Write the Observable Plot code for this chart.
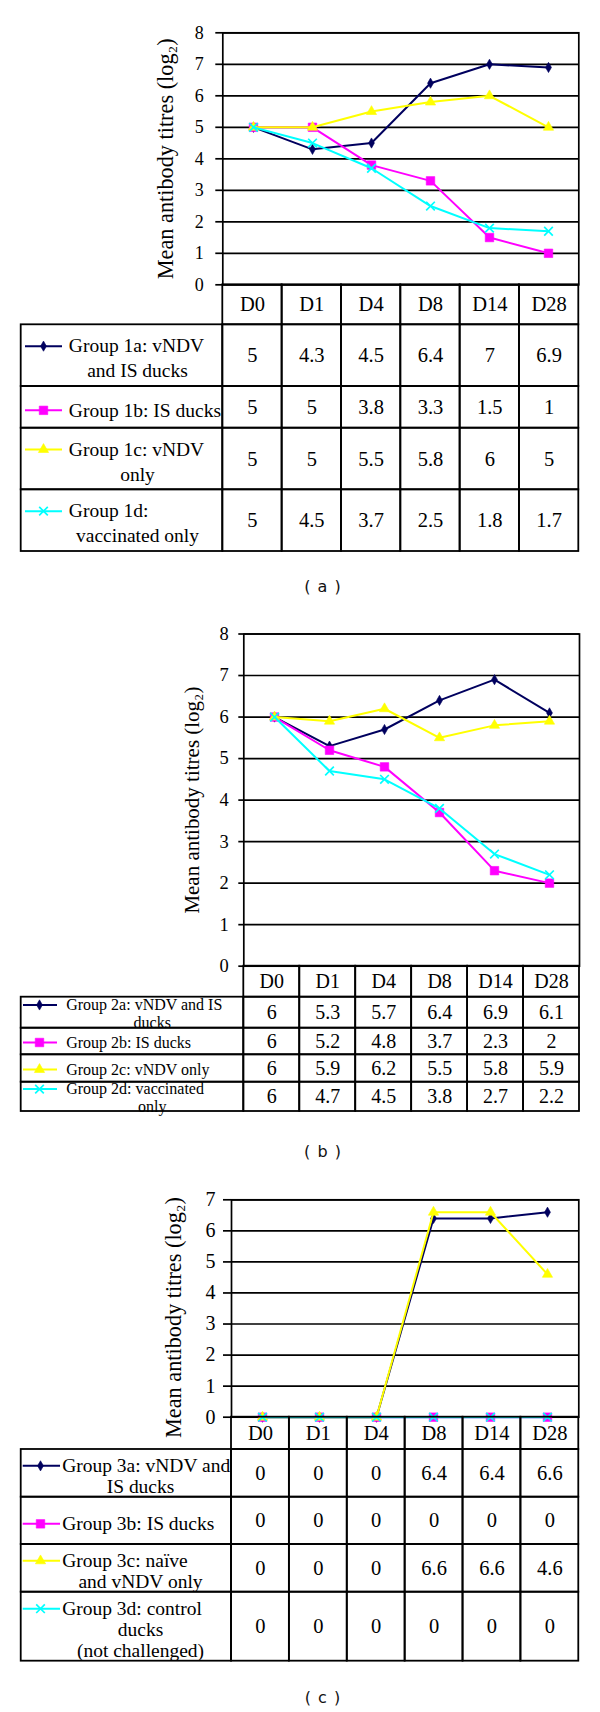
<!DOCTYPE html>
<html><head><meta charset="utf-8">
<script src="https://cdn.jsdelivr.net/npm/d3@7"></script>
<script src="https://cdn.jsdelivr.net/npm/@observablehq/plot@0.6"></script>
<style>
body{margin:0;background:#fff;}
#root{position:relative;width:600px;height:1712px;overflow:hidden;background:#fff;}
.box{position:absolute;left:0;width:600px;}
.box svg{display:block;}
.cap{position:absolute;font-family:"DejaVu Sans",sans-serif;font-size:16px;letter-spacing:1px;color:#111;transform:translate(-50%,-50%);white-space:pre;}
</style></head><body><div id="root"></div>
<script>
// ---------- data ----------
const days = ["D0", "D1", "D4", "D8", "D14", "D28"];
const yTitle = "Mean antibody titres (log₂)";

const labelsA = [["Group 1a: vNDV", "and IS ducks"], ["Group 1b: IS ducks"], ["Group 1c: vNDV", "only"], ["Group 1d:", "vaccinated only"]];
const valuesA = [[5, 4.3, 4.5, 6.4, 7, 6.9], [5, 5, 3.8, 3.3, 1.5, 1], [5, 5, 5.5, 5.8, 6, 5], [5, 4.5, 3.7, 2.5, 1.8, 1.7]];
const yTicksA = [0, 1, 2, 3, 4, 5, 6, 7, 8];

const labelsB = [["Group 2a: vNDV and IS", "ducks"], ["Group 2b: IS ducks"], ["Group 2c: vNDV only"], ["Group 2d: vaccinated", "only"]];
const valuesB = [[6, 5.3, 5.7, 6.4, 6.9, 6.1], [6, 5.2, 4.8, 3.7, 2.3, 2], [6, 5.9, 6.2, 5.5, 5.8, 5.9], [6, 4.7, 4.5, 3.8, 2.7, 2.2]];
const yTicksB = [0, 1, 2, 3, 4, 5, 6, 7, 8];

const labelsC = [["Group 3a: vNDV and", "IS ducks"], ["Group 3b: IS ducks"], ["Group 3c: naïve", "and vNDV only"], ["Group 3d: control", "ducks", "(not challenged)"]];
const valuesC = [[0, 0, 0, 6.4, 6.4, 6.6], [0, 0, 0, 0, 0, 0], [0, 0, 0, 6.6, 6.6, 4.6], [0, 0, 0, 0, 0, 0]];
const yTicksC = [0, 1, 2, 3, 4, 5, 6, 7];

const captions = ["( a )", "( b )", "( c )"];

// ---------- styles ----------
const serif = '"Liberation Serif","Times New Roman",serif';
const seriesColors = ["#00005e", "#ff00ff", "#ffff00", "#00ffff"];
const seriesSymbols = ["diamond", "square", "triangle", "times"];
const symbolR = [3.1, 4.8, 3.8, 4];

// ---------- layout ----------
const layoutA = {yTopPx: 32.3, yZeroPx: 284.3, left: 222.3, right: 578.3, tableLeft: 20.7,
  rowH: [40, 61.7, 41.7, 61.6, 61.7], lineH: 25, blockDy: 3, valueDy: 0, labelFont: 19.5, valueFont: 20.5,
  tickFont: 18, titleFont: 22.3, titleX: 165, titleDy: 0, tickSize: 7, tickPadding: 12,
  swatch: [25, 62, 43], textX: 68.3, contX: 137, caption: 585.7};
const layoutB = {yTopPx: 633.5, yZeroPx: 965.7, left: 243.3, right: 579, tableLeft: 20.7,
  rowH: [31, 31, 26.6, 27.4, 29.3], lineH: 17.5, blockDy: 1, valueDy: 0, labelFont: 16, valueFont: 20,
  tickFont: 18.5, titleFont: 21, titleX: 191.7, titleDy: 0, tickSize: 5, tickPadding: 10,
  swatch: [23, 57, 39], textX: 65.7, contX: 151.7, caption: 1151};
const layoutC = {yTopPx: 1199.3, yZeroPx: 1416.7, left: 231, right: 578.3, tableLeft: 20.7,
  rowH: [32.3, 47.7, 47.3, 47.7, 69], lineH: 21, blockDy: 3, valueDy: 0, labelFont: 19.5, valueFont: 20.5,
  tickFont: 20, titleFont: 22.3, titleX: 173.3, titleDy: 9, tickSize: 8, tickPadding: 8,
  swatch: [22.7, 60, 40], textX: 61.7, contX: 140, caption: 1697};

function dotOpts(gi, base) {
  const c = seriesColors[gi];
  const o = {...base, symbol: seriesSymbols[gi], r: symbolR[gi]};
  if (seriesSymbols[gi] === "times") return {...o, stroke: c, strokeWidth: 1.7, fill: "none"};
  return {...o, fill: c, stroke: c, strokeWidth: 0.6};
}

function place(el, top) {
  const d = document.createElement("div");
  d.className = "box";
  d.style.top = top + "px";
  d.appendChild(el);
  document.getElementById("root").appendChild(d);
}

function drawPanel(L, labels, values, yTicks, caption) {
  // ---- chart ----
  const chartTop = Math.floor(L.yTopPx - 34);
  const pad = 6;
  const chartHeight = L.yZeroPx - chartTop + pad;
  const series = values.map((vals, gi) => vals.map((v, di) => ({g: gi, day: days[di], v})));
  const marks = [
    Plot.ruleY(yTicks, {stroke: "#000", strokeWidth: 1.7}),
    Plot.axisY({ticks: yTicks, tickSize: L.tickSize, tickPadding: L.tickPadding, tickFormat: d => String(d),
      fontSize: L.tickFont, fontFamily: serif, stroke: "#000", strokeWidth: 1.7, color: "#000", label: null}),
    Plot.frame({stroke: "#000", strokeWidth: 1.7})
  ];
  series.forEach((s, gi) => {
    marks.push(Plot.line(s, {x: "day", y: "v", stroke: seriesColors[gi], strokeWidth: 2}));
    marks.push(Plot.dot(s, dotOpts(gi, {x: "day", y: "v"})));
  });
  marks.push(Plot.text([yTitle], {frameAnchor: "left", dx: L.titleX - L.left, dy: L.titleDy, rotate: -90,
    textAnchor: "middle", lineAnchor: "middle",
    text: d => d, fontSize: L.titleFont, fontFamily: serif, fill: "#000"}));
  const chart = Plot.plot({
    width: 600, height: chartHeight,
    marginTop: L.yTopPx - chartTop, marginBottom: pad, marginLeft: L.left, marginRight: 600 - L.right,
    style: {background: "transparent", overflow: "visible"},
    x: {type: "point", domain: days, padding: 0.5, align: 0.5, axis: null},
    y: {domain: [0, yTicks[yTicks.length - 1]], label: null},
    marks
  });
  place(chart, chartTop);

  // ---- table ----
  const colW = (L.right - L.left) / days.length;
  const lc = (L.left - L.tableLeft) / colW;
  const u = px => -lc + (px - L.tableLeft) / colW;
  const rowTop = [];
  let acc = 0;
  L.rowH.forEach(h => { rowTop.push(acc); acc += h; });
  const totalH = acc;
  const tTop = Math.floor(L.yZeroPx - 6);
  const tmt = L.yZeroPx - tTop, tmb = 6;
  const rowY = gi => rowTop[gi + 1] + L.rowH[gi + 1] / 2;
  const headerCells = days.map((d, i) => ({i, d}));
  const bodyCells = [];
  values.forEach((vals, gi) => vals.forEach((v, di) => bodyCells.push({gi, di, v})));
  const labelCells = labels.map((lines, gi) => ({gi}));
  const lineItems = [];
  labels.forEach((lines, gi) => {
    const c = rowY(gi) + L.blockDy;
    lines.forEach((t, j) => lineItems.push({gi, j, t, y: c + (j - (lines.length - 1) / 2) * L.lineH}));
  });
  const firstY = gi => lineItems.find(o => o.gi === gi && o.j === 0).y;
  const cellStyle = {fill: "none", stroke: "#000", strokeWidth: 1.8};
  const tmarks = [
    Plot.rect(headerCells, {x1: d => d.i, x2: d => d.i + 1, y1: () => 0, y2: () => L.rowH[0], ...cellStyle}),
    Plot.rect(bodyCells, {x1: d => d.di, x2: d => d.di + 1, y1: d => rowTop[d.gi + 1], y2: d => rowTop[d.gi + 1] + L.rowH[d.gi + 1], ...cellStyle}),
    Plot.rect(labelCells, {x1: () => -lc, x2: () => 0, y1: d => rowTop[d.gi + 1], y2: d => rowTop[d.gi + 1] + L.rowH[d.gi + 1], ...cellStyle}),
    Plot.text(headerCells, {x: d => d.i + 0.5, y: () => L.rowH[0] / 2, text: d => d.d, fontSize: L.valueFont, fontFamily: serif, fill: "#000"}),
    Plot.text(bodyCells, {x: d => d.di + 0.5, y: d => rowY(d.gi) + L.valueDy, text: d => String(d.v), fontSize: L.valueFont, fontFamily: serif, fill: "#000"}),
    Plot.text(lineItems.filter(o => o.j === 0), {frameAnchor: "left", dx: L.textX - L.tableLeft, y: "y", text: "t", textAnchor: "start", fontSize: L.labelFont, fontFamily: serif, fill: "#000"}),
    Plot.text(lineItems.filter(o => o.j > 0), {frameAnchor: "left", dx: L.contX - L.tableLeft, y: "y", text: "t", textAnchor: "middle", fontSize: L.labelFont, fontFamily: serif, fill: "#000"})
  ];
  labels.forEach((lines, gi) => {
    tmarks.push(Plot.ruleY([gi], {y: () => firstY(gi), x1: () => u(L.swatch[0]), x2: () => u(L.swatch[1]), stroke: seriesColors[gi], strokeWidth: 2}));
    tmarks.push(Plot.dot([gi], dotOpts(gi, {x: () => u(L.swatch[2]), y: () => firstY(gi)})));
  });
  const table = Plot.plot({
    width: 600, height: tmt + totalH + tmb,
    marginTop: tmt, marginBottom: tmb, marginLeft: L.tableLeft, marginRight: 600 - L.right,
    style: {background: "transparent", overflow: "visible"},
    x: {type: "linear", domain: [-lc, days.length], axis: null},
    y: {type: "linear", domain: [totalH, 0], axis: null},
    marks: tmarks
  });
  place(table, tTop);

  // ---- caption ----
  const cap = document.createElement("div");
  cap.className = "cap";
  cap.textContent = caption;
  cap.style.left = "323px";
  cap.style.top = L.caption + "px";
  document.getElementById("root").appendChild(cap);
}

drawPanel(layoutA, labelsA, valuesA, yTicksA, captions[0]);
drawPanel(layoutB, labelsB, valuesB, yTicksB, captions[1]);
drawPanel(layoutC, labelsC, valuesC, yTicksC, captions[2]);
</script></body></html>
